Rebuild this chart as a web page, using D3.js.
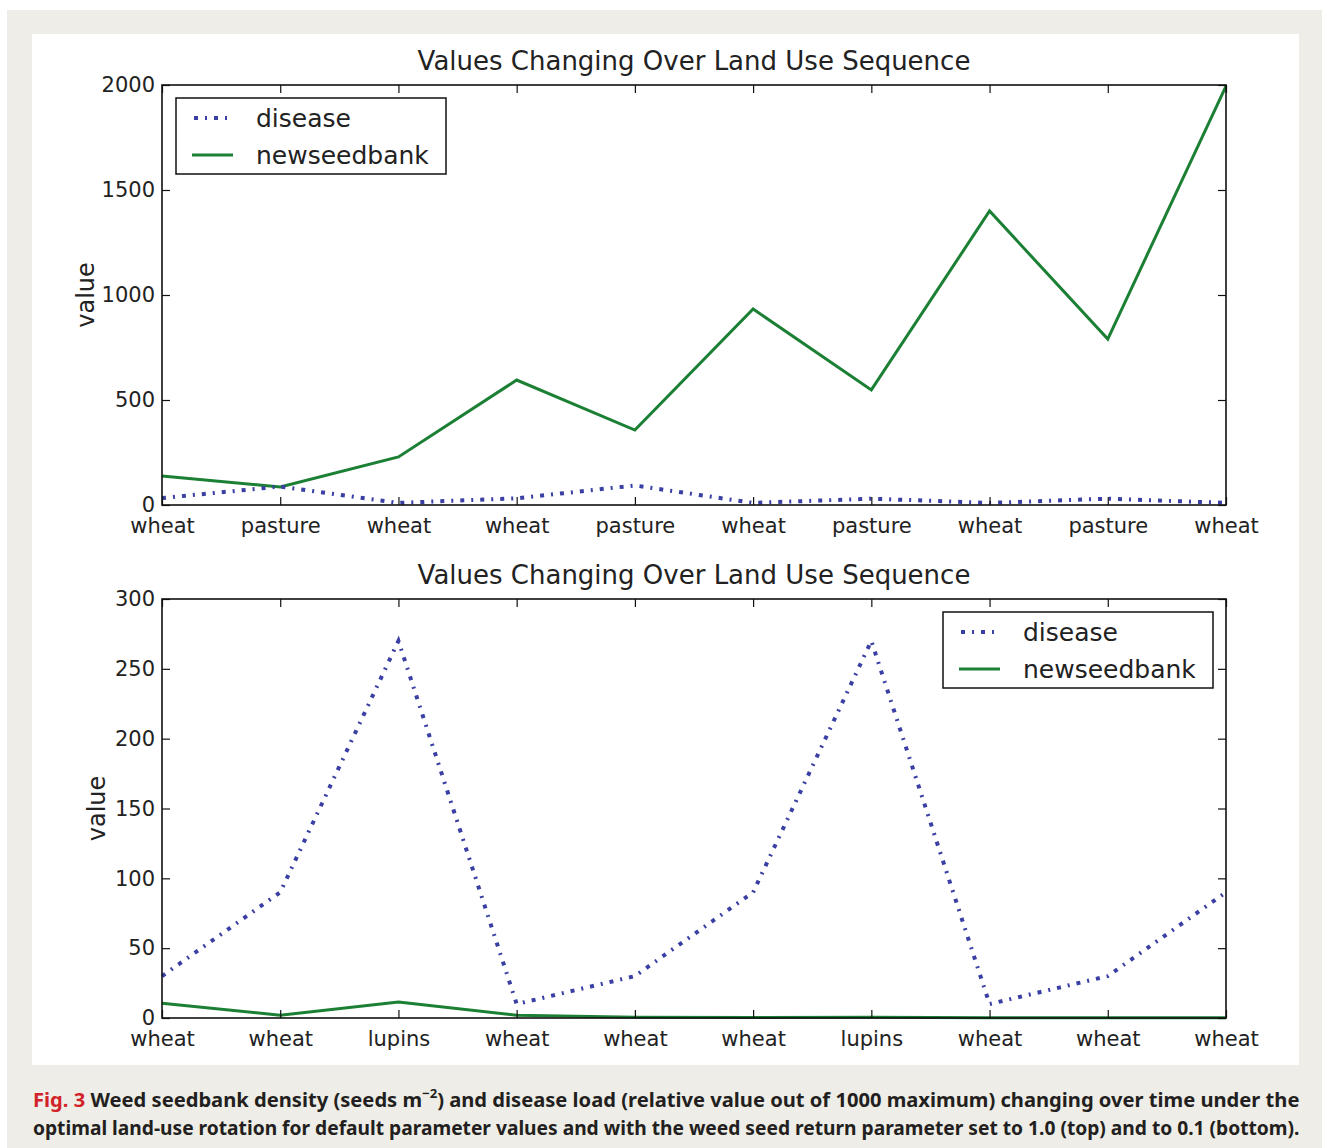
<!DOCTYPE html>
<html>
<head>
<meta charset="utf-8">
<script src="https://cdn.jsdelivr.net/npm/d3@7"></script>
<style>
  html, body { margin: 0; padding: 0; background: #ffffff; }
  svg { display: block; }
</style>
</head>
<body>
<svg id="chart" width="1322" height="1148"></svg>
<script>
// ---------- data ----------
const topCategories = ["wheat","pasture","wheat","wheat","pasture","wheat","pasture","wheat","pasture","wheat"];
const topDisease = [33, 88, 10, 32, 93, 10, 30, 10, 30, 10];
const topSeedbank = [138, 86, 229, 595, 357, 933, 548, 1400, 790, 1995];
const topYTicks = [0, 500, 1000, 1500, 2000];

const bottomCategories = ["wheat","wheat","lupins","wheat","wheat","wheat","lupins","wheat","wheat","wheat"];
const bottomDisease = [30, 90, 270, 10, 30, 90, 270, 10, 30, 90];
const bottomSeedbank = [10.5, 2, 11.5, 2, 0.6, 0.3, 0.5, 0.2, 0.1, 0.1];
const bottomYTicks = [0, 50, 100, 150, 200, 250, 300];

const seriesNames = ["disease", "newseedbank"];
const chartTitle = "Values Changing Over Land Use Sequence";
const yLabel = "value";
const captionLabel = "Fig. 3";
const captionLine1 = "Weed seedbank density (seeds m";
const captionSup = "\u22122";
const captionLine1b = ") and disease load (relative value out of 1000 maximum) changing over time under the";
const captionLine2 = "optimal land-use rotation for default parameter values and with the weed seed return parameter set to 1.0 (top) and to 0.1 (bottom).";

// ---------- styling ----------
const diseaseColor = "#3a3fa3";
const seedColor = "#1b7f34";
const font = "'DejaVu Sans', sans-serif";
const dash = "4,7,2,7";

const svg = d3.select("#chart");
svg.append("rect").attr("x", 7).attr("y", 10).attr("width", 1315).attr("height", 1138).attr("fill", "#eeede7");
svg.append("rect").attr("x", 32).attr("y", 34).attr("width", 1267).attr("height", 1031).attr("fill", "#ffffff");

function drawPanel(opts) {
  const { categories, disease, seedbank, yMax, yTicks, top, bottom, left, right, labelX, legendX, legendY } = opts;
  const g = svg.append("g");
  const x = d3.scalePoint().domain(d3.range(categories.length)).range([left, right]);
  const y = d3.scaleLinear().domain([0, yMax]).range([bottom, top]);

  // title
  g.append("text").attr("x", (left + right) / 2 + 0).attr("y", top - 15)
    .attr("text-anchor", "middle").attr("font-family", font).attr("font-size", 26)
    .attr("fill", "#222").text(chartTitle);

  // lines
  const line = (vals) => d3.line().x((d, i) => x(i)).y(d => y(d))(vals);
  g.append("path").attr("d", line(seedbank)).attr("fill", "none")
    .attr("stroke", seedColor).attr("stroke-width", 3).attr("stroke-linejoin", "miter");
  g.append("path").attr("d", line(disease)).attr("fill", "none")
    .attr("stroke", diseaseColor).attr("stroke-width", 4)
    .attr("stroke-dasharray", dash);

  // axes (ticks inside, mirrored)
  const tickLen = 8;
  const axB = d3.axisBottom(x).tickSizeInner(-tickLen).tickSizeOuter(0).tickPadding(17)
    .tickFormat(i => categories[i]);
  const axT = d3.axisTop(x).tickSizeInner(-tickLen).tickSizeOuter(0).tickFormat("");
  const axL = d3.axisLeft(y).tickValues(yTicks).tickFormat(d3.format("d"))
    .tickSizeInner(-tickLen).tickSizeOuter(0).tickPadding(7);
  const axR = d3.axisRight(y).tickValues(yTicks).tickSizeInner(-tickLen).tickSizeOuter(0).tickFormat("");

  const gb = g.append("g").attr("transform", `translate(0,${bottom})`).call(axB);
  const gt = g.append("g").attr("transform", `translate(0,${top})`).call(axT);
  const gl = g.append("g").attr("transform", `translate(${left},0)`).call(axL);
  const gr = g.append("g").attr("transform", `translate(${right},0)`).call(axR);
  [gb, gt, gl, gr].forEach(a => {
    a.select(".domain").remove();
    a.selectAll(".tick line").attr("stroke", "#111").attr("stroke-width", 1.2);
    a.selectAll("text").attr("font-family", font).attr("font-size", 21).attr("fill", "#222");
  });
  gb.selectAll("text").attr("dy", "0.5em");

  // frame
  g.append("rect").attr("x", left).attr("y", top).attr("width", right - left).attr("height", bottom - top)
    .attr("fill", "none").attr("stroke", "#111").attr("stroke-width", 1.6);

  // y label
  g.append("text").attr("transform", `translate(${labelX},${(top + bottom) / 2}) rotate(-90)`)
    .attr("text-anchor", "middle").attr("dy", "0.35em").attr("font-family", font).attr("font-size", 24)
    .attr("fill", "#222").text(yLabel);

  // legend
  const lw = 270, lh = 76;
  const lg = g.append("g").attr("transform", `translate(${legendX},${legendY})`);
  lg.append("rect").attr("width", lw).attr("height", lh).attr("fill", "#fff")
    .attr("stroke", "#111").attr("stroke-width", 1.5);
  const rowsY = [20, 57];
  const colors = [diseaseColor, seedColor];
  seriesNames.forEach((name, i) => {
    const ln = lg.append("line").attr("x1", 16).attr("x2", 57).attr("y1", rowsY[i]).attr("y2", rowsY[i])
      .attr("stroke", colors[i]).attr("stroke-width", i === 0 ? 4 : 3);
    if (i === 0) ln.attr("stroke-dasharray", dash).attr("stroke-dashoffset", -2);
    lg.append("text").attr("x", 80).attr("y", rowsY[i]).attr("dy", "0.35em")
      .attr("font-family", font).attr("font-size", 25).attr("fill", "#222").text(name);
  });
}

drawPanel({
  categories: topCategories, disease: topDisease, seedbank: topSeedbank,
  yMax: 2000, yTicks: topYTicks, top: 85, bottom: 505, left: 162, right: 1226,
  labelX: 86, legendX: 176, legendY: 98
});
drawPanel({
  categories: bottomCategories, disease: bottomDisease, seedbank: bottomSeedbank,
  yMax: 300, yTicks: bottomYTicks, top: 599, bottom: 1018, left: 162, right: 1226,
  labelX: 97, legendX: 943, legendY: 612
});

// caption (natural width measured, then scaled horizontally to the justified width)
const capFont = "'Noto Sans', 'DejaVu Sans', sans-serif";
const capLeft = 33, capRight = 1300;
function capText(yPos) {
  return svg.append("g").append("text").attr("x", 0).attr("y", 0)
    .attr("font-family", capFont).attr("font-weight", "bold").attr("font-size", 20).attr("fill", "#231f20")
    .attr("data-y", yPos);
}
const c1 = capText(1107);
c1.append("tspan").attr("fill", "#d2232a").text(captionLabel + "  ");
c1.append("tspan").text(captionLine1);
c1.append("tspan").attr("font-size", 13).attr("dy", -9).text(captionSup);
c1.append("tspan").attr("dy", 9).text(captionLine1b);
const c2 = capText(1135).text(captionLine2);
[c1, c2].forEach(t => {
  const w = t.node().getComputedTextLength();
  const s = (capRight - capLeft) / w;
  d3.select(t.node().parentNode).attr("transform", `translate(${capLeft},${t.attr("data-y")}) scale(${s},1)`);
});
</script>
</body>
</html>
